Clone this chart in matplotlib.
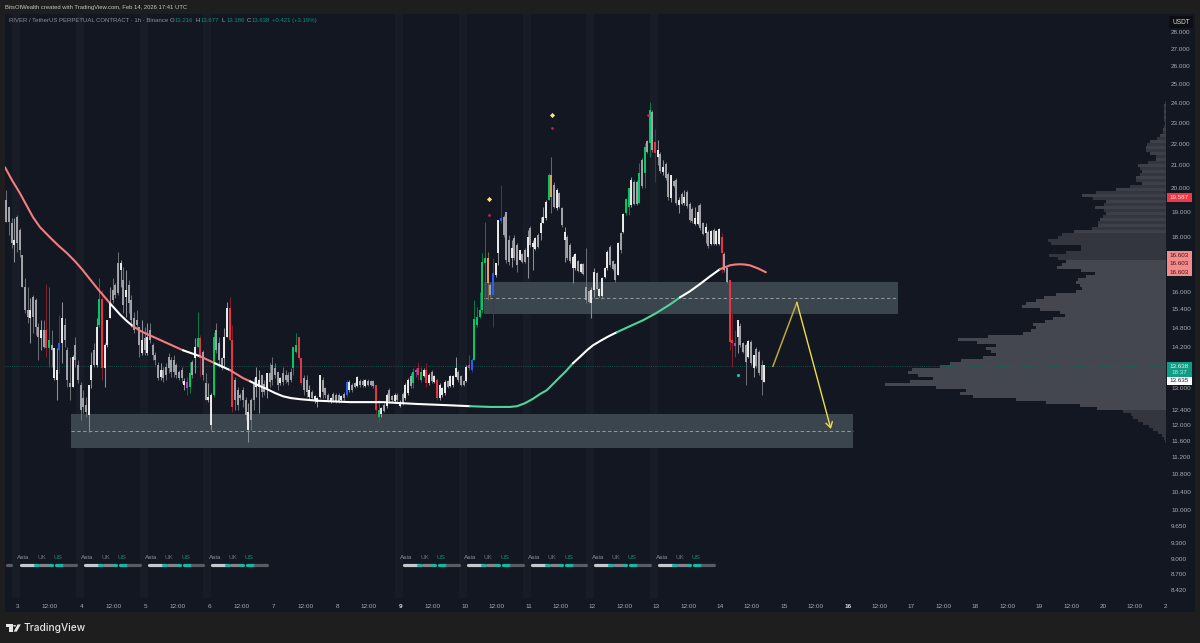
import numpy as np
import matplotlib
matplotlib.use("Agg")
import matplotlib.pyplot as plt
from matplotlib.patches import Rectangle, Polygon, Circle

W, H = 1200, 643
FONT = "Liberation Sans"
plt.rcParams["font.family"] = [FONT, "DejaVu Sans"]

# ---------- data ----------
first_hour = -4.4  # hours after 3 Feb 00:00 of the first candle
highs = [
    19.90,19.19,18.74,18.74,18.86,18.34,17.30,16.47,16.15,15.77,
    15.87,15.77,14.94,15.04,15.04,16.26,16.15,14.72,14.16,14.16,
    15.20,15.63,15.10,14.19,13.89,13.95,14.50,13.80,13.17,12.94,
    12.75,13.08,14.04,14.32,15.10,16.47,16.04,14.32,15.04,16.15,
    16.47,16.29,17.41,17.12,16.86,16.75,16.40,15.87,15.30,15.37,
    14.81,15.04,14.81,14.94,14.94,14.32,14.04,13.74,13.71,13.59,
    13.71,14.01,13.89,13.95,13.71,13.51,13.59,13.28,13.31,13.74,
    13.80,14.47,15.30,14.56,14.10,13.42,13.14,12.86,14.66,14.94,
    14.50,13.89,14.78,15.63,15.80,14.88,13.31,13.03,12.86,13.03,
    12.75,12.58,12.72,13.28,13.59,13.51,13.36,13.22,13.42,13.71,
    13.89,13.71,13.45,13.31,13.59,13.51,13.45,13.57,14.19,14.62,
    14.50,13.86,13.36,13.36,13.08,12.94,12.80,12.75,13.36,13.31,
    13.03,12.86,12.75,12.89,12.86,12.86,12.80,12.89,13.22,13.22,
    13.14,13.17,13.33,13.25,13.25,13.25,13.25,13.22,13.22,13.08,
    12.66,12.48,12.58,12.86,13.00,12.80,12.86,12.86,12.66,12.89,
    13.14,13.28,13.42,13.57,13.57,13.74,13.59,13.57,13.71,13.42,
    13.51,13.36,13.28,13.14,13.03,13.22,13.22,13.36,13.36,13.89,
    13.51,13.36,13.22,13.65,13.95,13.86,15.70,15.47,15.97,17.38,
    18.58,17.41,16.29,17.19,17.01,18.66,20.12,18.86,18.98,18.06,
    17.87,18.06,17.76,17.49,17.38,17.57,18.26,18.42,17.87,17.98,
    18.14,18.78,19.19,19.48,20.65,21.37,20.25,19.99,19.82,19.19,
    18.38,18.06,17.76,17.30,17.38,17.12,17.01,17.01,17.57,16.04,
    16.15,16.82,16.68,16.11,16.50,16.86,17.49,17.68,17.12,17.01,
    17.79,18.18,18.94,19.56,19.99,20.47,20.34,20.34,21.09,21.32,
    22.01,22.16,24.05,23.64,22.70,22.16,21.60,21.23,21.14,20.69,
    20.56,20.34,20.43,19.61,19.82,19.90,19.90,19.40,19.19,19.19,
    19.27,19.35,18.58,18.54,18.26,18.26,18.34,18.26,18.34,18.14,
    17.41,16.86,16.40,15.27,14.72,15.04,14.94,14.35,14.32,14.41,
    14.41,13.95,14.19,14.10,13.80,13.65,
]
lows = [
    18.58,18.06,17.57,17.04,17.41,17.23,16.15,15.27,14.94,14.32,
    14.62,14.56,13.80,14.10,14.16,13.89,13.59,13.59,13.22,12.66,
    13.42,13.71,14.19,13.03,12.66,13.03,13.59,13.14,12.13,12.32,
    12.21,11.82,13.00,13.59,13.59,14.81,13.22,13.03,14.19,15.10,
    15.60,15.77,15.87,16.15,15.27,15.14,15.27,14.81,14.62,14.72,
    13.89,13.95,13.95,13.95,14.32,13.80,13.65,13.22,13.22,13.17,
    13.22,13.42,13.31,13.31,13.28,13.22,13.14,12.94,12.80,12.86,
    13.28,13.42,14.19,13.31,13.22,12.66,12.61,11.87,12.75,14.01,
    13.59,13.51,13.59,14.50,14.41,12.34,12.39,12.39,12.66,12.48,
    12.13,11.57,11.87,12.39,12.75,12.32,12.75,12.80,12.72,13.03,
    13.08,13.28,12.94,13.08,13.08,13.14,13.08,13.17,13.36,14.01,
    13.80,13.08,12.80,12.75,12.66,12.66,12.58,12.48,12.72,12.72,
    12.72,12.61,12.58,12.61,12.58,12.58,12.61,12.66,12.75,12.89,
    12.89,13.00,13.03,13.03,13.03,13.03,13.05,13.05,13.00,12.21,
    12.08,12.21,12.34,12.45,12.58,12.61,12.58,12.61,12.48,12.53,
    12.66,12.80,13.00,13.00,13.31,13.22,13.17,13.31,13.03,13.08,
    13.14,13.14,12.66,12.66,12.75,12.80,13.00,13.03,13.03,13.31,
    13.17,13.05,13.05,13.17,13.51,13.45,13.80,14.81,15.10,15.27,
    15.70,15.70,15.80,14.81,16.50,16.93,18.54,17.98,17.01,16.93,
    16.86,17.12,16.68,17.12,17.01,17.01,16.47,17.60,16.75,17.49,
    17.57,17.87,18.54,18.66,19.48,18.94,19.14,19.06,19.14,18.38,
    17.04,17.12,17.01,16.29,16.75,16.68,16.64,16.57,15.60,15.60,
    15.10,15.80,16.04,15.80,15.80,16.47,16.75,16.86,16.75,16.33,
    16.57,17.38,18.14,18.86,18.86,19.19,19.27,19.27,19.35,19.99,
    19.99,21.55,21.37,21.60,20.25,21.00,20.65,20.56,20.34,19.48,
    19.40,20.03,19.27,18.94,19.27,19.27,19.14,18.58,18.54,18.46,
    18.46,18.26,18.06,17.76,17.57,17.68,17.68,17.68,17.68,16.64,
    16.68,16.29,14.10,13.59,13.89,14.01,14.19,14.01,13.08,13.86,
    13.65,13.31,13.57,13.36,12.80,13.17,
]
body_tops = [
    19.48,19.19,18.54,17.87,18.78,18.26,17.30,16.15,15.37,15.37,
    15.80,15.70,14.81,14.72,14.72,14.72,14.41,14.25,14.16,13.51,
    14.32,15.10,14.88,14.10,13.14,13.89,14.25,13.65,13.08,12.72,
    12.53,13.08,13.65,14.10,14.81,15.73,15.73,14.25,15.04,15.60,
    16.04,16.22,17.01,17.01,16.40,16.04,16.22,15.70,15.10,15.04,
    14.81,14.41,14.47,14.50,14.72,14.25,13.95,13.65,13.51,13.51,
    13.59,13.89,13.80,13.80,13.65,13.45,13.51,13.19,13.17,13.42,
    13.74,14.19,14.47,14.47,14.04,13.14,12.75,12.80,14.50,14.72,
    14.32,13.86,14.50,15.43,15.43,14.41,13.22,12.94,12.80,12.94,
    12.66,12.34,12.66,13.17,13.31,13.22,13.36,13.11,13.42,13.42,
    13.65,13.57,13.45,13.28,13.42,13.36,13.36,13.45,14.19,14.25,
    14.50,13.86,13.28,13.22,12.94,12.89,12.77,12.72,13.36,13.22,
    13.00,12.80,12.72,12.83,12.80,12.80,12.77,12.83,13.17,13.17,
    13.08,13.14,13.31,13.19,13.19,13.22,13.19,13.19,13.19,13.08,
    12.39,12.45,12.53,12.80,12.94,12.77,12.80,12.80,12.61,12.83,
    13.08,13.22,13.33,13.45,13.51,13.57,13.45,13.51,13.51,13.36,
    13.45,13.33,13.22,13.08,13.00,13.17,13.19,13.33,13.33,13.57,
    13.45,13.33,13.19,13.59,13.65,13.80,15.07,15.14,15.37,17.04,
    17.19,17.19,16.22,16.64,17.01,18.66,18.74,18.78,18.98,17.87,
    17.57,17.95,17.68,17.49,17.34,17.49,17.98,18.34,17.76,17.95,
    18.06,18.54,18.78,19.40,20.56,20.56,20.12,19.90,19.77,19.14,
    18.18,17.98,17.68,17.23,17.34,17.08,16.97,16.97,16.15,16.01,
    16.04,16.68,16.64,16.08,16.47,16.82,17.41,17.60,17.08,16.97,
    17.76,18.14,18.90,19.52,19.99,20.34,20.25,20.25,20.65,21.23,
    21.83,22.11,23.64,23.54,22.06,21.69,21.50,20.91,21.05,20.60,
    20.56,20.30,20.34,19.48,19.73,19.61,19.82,19.31,19.10,18.74,
    18.98,19.27,18.54,18.38,18.18,18.22,18.26,18.22,18.30,17.98,
    17.34,16.82,16.40,14.41,14.32,15.04,14.85,14.32,14.25,14.38,
    14.35,13.95,14.13,14.04,13.65,13.65,
]
body_bottoms = [
    18.58,18.58,17.76,17.68,17.76,17.49,16.15,15.37,15.14,15.10,
    15.14,14.81,14.50,14.47,14.19,14.16,14.16,14.10,13.28,13.22,
    14.10,14.32,14.41,13.22,13.03,13.03,13.80,13.22,12.39,12.48,
    12.34,12.26,13.22,13.65,13.65,14.88,13.57,13.57,14.25,15.10,
    15.70,15.87,15.94,16.75,15.53,15.80,15.60,15.04,14.72,14.88,
    14.25,14.01,14.10,14.01,14.41,13.95,13.80,13.28,13.31,13.28,
    13.36,13.57,13.45,13.45,13.36,13.28,13.28,13.08,13.00,13.03,
    13.36,13.86,14.19,13.86,13.36,12.66,12.66,12.00,12.80,14.10,
    13.80,13.57,13.86,14.50,14.41,12.48,12.66,12.53,12.72,12.66,
    12.26,11.87,12.13,12.66,13.03,13.03,12.89,12.89,13.00,13.17,
    13.22,13.36,13.08,13.14,13.17,13.22,13.17,13.22,13.57,14.04,
    13.86,13.14,12.94,12.89,12.75,12.72,12.64,12.61,12.75,12.89,
    12.80,12.66,12.61,12.66,12.64,12.64,12.66,12.72,12.80,12.94,
    12.94,13.03,13.05,13.08,13.08,13.05,13.08,13.08,13.05,12.39,
    12.21,12.29,12.37,12.50,12.64,12.66,12.64,12.66,12.50,12.58,
    12.72,12.86,13.05,13.14,13.45,13.36,13.22,13.33,13.14,13.14,
    13.19,13.17,12.72,12.72,12.80,12.86,13.03,13.05,13.08,13.31,
    13.22,13.08,13.08,13.19,13.57,13.51,13.80,14.88,15.14,15.37,
    17.01,16.29,15.87,15.87,16.57,17.38,18.62,18.06,17.12,17.04,
    17.19,17.19,16.93,17.12,17.04,17.04,17.23,17.68,17.60,17.53,
    17.60,18.14,18.54,18.74,19.48,19.61,19.19,19.14,19.19,18.46,
    17.87,17.19,17.08,16.82,16.82,16.71,16.68,16.60,15.70,15.63,
    15.60,16.04,16.08,15.84,15.84,16.50,16.82,16.93,16.79,16.40,
    16.57,17.49,18.18,18.94,19.19,19.27,19.31,19.31,19.35,20.08,
    20.65,21.60,22.01,21.69,21.55,21.37,20.74,20.69,20.43,19.61,
    19.56,20.08,19.35,19.27,19.31,19.35,19.23,18.66,18.62,18.50,
    18.50,18.34,18.10,18.14,17.64,17.72,17.72,17.72,17.72,17.38,
    16.75,16.33,14.35,14.32,14.22,14.50,14.25,14.04,13.74,13.89,
    13.71,13.57,13.62,13.42,13.22,13.17,
]
candle_kinds = (
    "gggwgggggw" "gggwgRGgww" "Bwgggwgggg" "gwwgwGRwww" "gggwgwgggg" "gwgwggggwg"
    "gggggggwPG" "gwGRggwwGg" "ggwwRRgggg" "gwggwwggwg" "gggwggggGG" "RRggwgwwwg"
    "ggwgggwgBw" "ggwggwgggR" "Gwgwggwgwg" "wwgGPRGwRw" "gwRwwwgwww" "gggwPB" "GGGG"
    "GOgBwwBggg" "wggwggwgww" "gwwwGOgwgg" "wggwwgwggg" "wwgwwwwggg" "wgwGGwggGg"
    "GgGgRwgwgg" "wggwgwgggw" "wggwgwgwwR" "ggRRPwgggw" "gwgggw"
)

ma_hours = [-4.89,-2.26,.75,3.38,5.64,8.27,12.03,15.04,18.42,21.43,24.06,27.07,30.08,32.34,
            34.59,38.35,40.98,
            43.24,46.25,49.63,56.02,
            62.04,68.43,74.07,79.71,84.6,
            87.23,90.24,93.62,96.63,99.64,102.65,106.03,112.42,124.83,137.24,150.02,160.55,
            169.95,177.47,184.99,187.62,190.63,193.64,196.27,198.9,201.16,203.79,206.05,
            208.68,211.31,213.94,216.2,218.83,221.84,
            225.22,230.11,235.0,239.89,245.15,
            248.91,252.67,256.43,260.19,
            263.95,265.83,267.71,269.59,271.47,273.35,275.23,278.24,281.25]
ma_prices = [20.91,20.34,19.77,19.23,18.78,18.38,17.98,17.68,17.38,17.08,16.79,16.43,16.08,15.84,
             15.60,15.23,15.01,
             14.85,14.69,14.56,14.32,
             14.10,13.92,13.71,13.51,13.28,
             13.19,13.08,12.97,12.86,12.77,12.72,12.69,12.65,12.61,12.61,12.56,12.53,
             12.50,12.48,12.48,12.50,12.58,12.70,12.83,12.94,13.11,13.31,13.48,
             13.71,13.90,14.10,14.25,14.38,14.52,
             14.66,14.85,15.04,15.27,15.56,
             15.80,16.01,16.26,16.53,
             16.79,16.86,16.93,16.96,16.97,16.96,16.93,16.82,16.68]
ma_kinds = "s" * 14 + "w" * 3 + "s" * 4 + "wswss" + "w" * 12 + "g" * 11 + "w" * 6 + "g" * 5 + "w" * 4 + "s" * 9

zone_hours = [(19.93, 313.96), (175.22, 330.88)]
zone_tops = [12.29, 16.33]
zone_bottoms = [11.42, 15.23]
zone_mids = [11.84, 15.77]

path_hours = [283.88, 292.9, 305.69]
path_prices = [13.62, 15.63, 11.90]

diamond_hours = [177.1, 200.78]
diamond_prices = [19.53, 23.39]
dot_hours = [177.1, 200.78, 236.88]
dot_prices = [18.86, 22.75, 23.39]
teal_dot_hours = [270.72]
teal_dot_prices = [13.36]

last_price = 13.638

profile_top = 24.05
profile_row_ratio = 2 ** (-3 / 322)
profile_volumes = [
    1,2,2,2,2,2,2,1,2,3,3,6,9,16,19,20,20,16,10,10,18,28,26,24,26,30,30,24,36,50,
    70,84,73,60,62,71,62,60,63,66,68,68,74,92,104,108,118,115,85,85,100,117,108,
    100,104,109,85,71,80,88,90,86,84,90,110,122,130,140,144,126,106,101,113,121,133,
    130,135,143,178,208,189,170,180,175,170,183,205,216,226,254,258,248,233,256,281,
    230,200,206,193,150,120,86,69,43,35,33,28,23,17,13,8,4,2,1,
]
value_area_high = 17.10
value_area_low = 12.40

price_ticks = [28,27,26,25,24,23,22,21,20,19,18,16,15.4,14.8,14.2,13,12.4,12,11.6,11.2,10.8,10.4,10,9.65,9.3,9,8.7,8.42]
tick_days = list(range(3, 21))
tick_noon_days = list(range(3, 21))
band_days = [3, 4, 5, 6, 9, 10, 11, 12, 13]
session_days = [3, 4, 5, 6, 9, 10, 11, 12, 13]
session_labels = ["Asia", "UK", "US"]
session_label_hours = [2.06, 8.9, 15.0]
session_label_colors = ["#8d9096", "#6d7077", "#13927f"]
session_starts = [1.1, 6.4, 8.25, 12.0, 14.25, 17.25]
session_ends = [6.4, 7.5, 12.0, 12.75, 17.25, 21.75]
session_colors = ["#c6c8ce", "#14b8a6", "#83858c", "#14b8a6", "#14b8a6", "#5a5c63"]
session_level = 8.875
session_label_level = 9.03

# ---------- styles ----------
BG_FIG = "#1e1e1e"
BG = "#131722"
BAND = "#181c27"
ZONE = "#3a454d"
TXT = "#a9abb1"
body_col = dict(g="#a6a8ae", w="#f2f2f2", G="#00d26a", R="#f23645", B="#2962ff", P="#c43ee0", O="#f2a560")
wick_col = dict(g="#6a6c73", w="#8c8e95", G="#0c7a48", R="#7c1f2c", B="#1f3f91", P="#6a2a94", O="#77693c")
ma_col = dict(s="#f47c7c", w="#ffffff", g="#4cd69c")


def fx(x):
    return x / W


def fy(y):
    return 1 - y / H


def px_rect(x0, y0, x1, y1, color, z):
    fig.add_artist(Rectangle((fx(x0), fy(y1)), (x1 - x0) / W, (y1 - y0) / H, transform=fig.transFigure,
                             facecolor=color, edgecolor="none", zorder=z))


def px_text(x, y, s, color=TXT, size=4.5, ha="left", z=6, **kw):
    fig.text(fx(x), fy(y), s, color=color, fontsize=size, ha=ha, va="center", zorder=z, **kw)


fig = plt.figure(figsize=(W / 100, H / 100), dpi=100, facecolor=BG_FIG)
px_rect(5, 14, 1195, 612, BG, -5)

L, R, T, B = 5, 1166, 14, 598
rect = [L / W, 1 - B / H, (R - L) / W, (B - T) / H]
ylim = (8.27, 29.09)

# volume profile (underneath the chart)
axp = fig.add_axes(rect, facecolor="none", zorder=0.5)
axp.set_yscale("log")
axp.set_ylim(*ylim)
axp.set_xlim(1161, 0)
axp.axis("off")
for i, v in enumerate(profile_volumes):
    hi = profile_top * profile_row_ratio ** (i - 0.5)
    lo = profile_top * profile_row_ratio ** (i + 0.5)
    mid = (hi + lo) / 2
    if value_area_low <= mid <= value_area_high:
        c = "#44474f"
    elif mid > 18.05 and i % 2:
        c = "#3d4048"
    else:
        c = "#33363e"
    axp.barh(lo, v, height=hi - lo, align="edge", color=c, linewidth=0)

ax = fig.add_axes(rect, facecolor="none", zorder=1)
ax.set_yscale("log")
ax.set_ylim(*ylim)
ax.set_xlim(-4.889, 431.7)
for s in ax.spines.values():
    s.set_visible(False)

# session bands
for d in band_days:
    h0 = (d - 3) * 24
    ax.axvspan(h0 - 2.25, h0 + 0.75, color=BAND, lw=0, zorder=0)

# zones
for (x0, x1), zt, zb, zm in zip(zone_hours, zone_tops, zone_bottoms, zone_mids):
    ax.fill_between([x0, x1], zb, zt, color=ZONE, lw=0, zorder=1)
    ax.plot([x0, x1], [zm, zm], color="#a3a8ab", lw=0.6, ls=(0, (4, 3)), zorder=1.5)

# last price line
ax.axhline(last_price, color="#11685c", lw=0.6, ls=(0, (1, 1.6)), zorder=1.6)

# candles
hours = first_hour + np.arange(len(highs))
ax.vlines(hours, lows, highs, colors=[wick_col[k] for k in candle_kinds], lw=0.75, zorder=3)
ax.vlines(hours, body_bottoms, body_tops, colors=[body_col[k] for k in candle_kinds], lw=1.35, zorder=3.2)

# moving average, one line per run of equal colour
start = 0
for i in range(1, len(ma_hours) + 1):
    if i == len(ma_hours) or ma_kinds[i] != ma_kinds[start]:
        end = min(i + 1, len(ma_hours))
        ax.plot(ma_hours[start:end], ma_prices[start:end], color=ma_col[ma_kinds[start]], lw=1.5,
                solid_capstyle="round", solid_joinstyle="round", zorder=4)
        start = i

# signal markers
ax.plot(diamond_hours, diamond_prices, ls="none", marker="D", ms=2.6, color="#ffe27a", mew=0, zorder=5)
ax.plot(dot_hours, dot_prices, ls="none", marker="o", ms=2.0, color="#d9115f", mew=0, zorder=5)
ax.plot(teal_dot_hours, teal_dot_prices, ls="none", marker="o", ms=2.2, color="#14c8b8", mew=0, zorder=5)

# projected path
ax.plot(path_hours[:2], path_prices[:2], color="#baa93a", lw=1.1, zorder=5)
ax.annotate("", xy=(path_hours[2], path_prices[2]), xytext=(path_hours[1], path_prices[1]),
            arrowprops=dict(arrowstyle="->,head_width=0.24,head_length=0.4", color="#f0dd45", lw=1.0,
                            shrinkA=0, shrinkB=0), zorder=5)

# sessions
for d in session_days:
    h0 = (d - 3) * 24
    for a, b, c in zip(session_starts, session_ends, session_colors):
        ax.plot([h0 + a, h0 + b], [session_level, session_level], color=c, lw=2.3, solid_capstyle="round", zorder=2)
    for hh, s, c in zip(session_label_hours, session_labels, session_label_colors):
        ax.text(h0 + hh, session_label_level, s, color=c, fontsize=4.6, ha="center", va="center", zorder=2)
ax.plot([-4.2, -2.6], [session_level, session_level], color=session_colors[5], lw=2.3, solid_capstyle="round", zorder=2)

# price axis
ax.yaxis.tick_right()
ax.minorticks_off()
ax.set_yticks(price_ticks)
ax.set_yticklabels([f"{p:.3f}" for p in price_ticks])
ax.minorticks_off()
ax.tick_params(axis="y", which="both", length=0, pad=3.6, labelsize=4.6, labelcolor=TXT)

# time axis
xt = [(d - 3) * 24 for d in tick_days] + [(d - 3) * 24 + 12 for d in tick_noon_days] + [431.4]
xl = [str(d) for d in tick_days] + ["12:00"] * len(tick_noon_days) + ["2"]
ax.set_xticks(xt)
ax.set_xticklabels(xl)
ax.tick_params(axis="x", which="both", length=0, pad=4.6, labelsize=4.6, labelcolor=TXT)
for lab in ax.get_xticklabels():
    if lab.get_text() in ("9", "16"):
        lab.set_fontweight("bold")
        lab.set_color("#d5d6da")

# price tags
px_rect(1167, 193, 1192, 202, "#f23645", 4)
px_text(1179.5, 197.5, "19.587", color="#ffe3e3", ha="center")
px_rect(1167, 251, 1192, 276, "#f58a8a", 4)
for yy in (255.5, 263.5, 272):
    px_text(1179.5, yy, "16.603", color="#3a1a1f", ha="center")
px_rect(1167, 362, 1192, 377, "#0f9d85", 4)
px_text(1179.5, 366.5, "13.638", color="#e8f6f3", ha="center")
px_text(1179.5, 373, "18:37", color="#bfe6de", ha="center")
px_rect(1167, 377, 1192, 385, "#ffffff", 4)
px_text(1179.5, 381, "13.635", color="#222222", ha="center")
px_rect(1169, 16, 1193, 28, "#0c0e14", 4)
px_text(1181, 22.2, "USDT", color="#d6d7da", size=4.7, ha="center")

# header
px_text(5, 7.3, "BitsOfWealth created with TradingView.com, Feb 14, 2026 17:41 UTC", color="#c4c4c4", size=4.24)
px_text(9, 20.5, "RIVER / TetherUS PERPETUAL CONTRACT · 1h · Binance", color="#8d9097", size=4.3)
GREEN = "#0b8f79"
for x, lab, val in [(170, "O", "13.216"), (196, "H", "13.677"), (222, "L", "13.186"), (247, "C", "13.638")]:
    px_text(x, 20.5, lab, color="#a4a6ac", size=4.3)
    px_text(x + 5, 20.5, val, color=GREEN, size=4.3)
px_text(272, 20.5, "+0.421 (+3.19%)", color=GREEN, size=4.3)

# footer: TradingView mark and name
mark = "#e6e6e6"
px_rect(6, 624.4, 12.6, 627, mark, 6)
px_rect(9.4, 624.4, 12.6, 631.6, mark, 6)
fig.add_artist(Circle((fx(14.6), fy(625.8)), 1.45 / W, transform=fig.transFigure, facecolor=mark,
                      edgecolor="none", zorder=6))
fig.add_artist(Polygon([(fx(17.6), fy(624.4)), (fx(20.8), fy(624.4)), (fx(16.8), fy(631.6)), (fx(13.6), fy(631.6))],
                       closed=True, transform=fig.transFigure, facecolor=mark, edgecolor="none", zorder=6))
fig.text(fx(24), fy(628), "TradingView", color="#e6e6e6", fontsize=7.3, family=["Inter", "DejaVu Sans"],
         fontweight="medium", va="center", ha="left", zorder=6)

fig.savefig("out.png", dpi=100, facecolor=BG_FIG)
